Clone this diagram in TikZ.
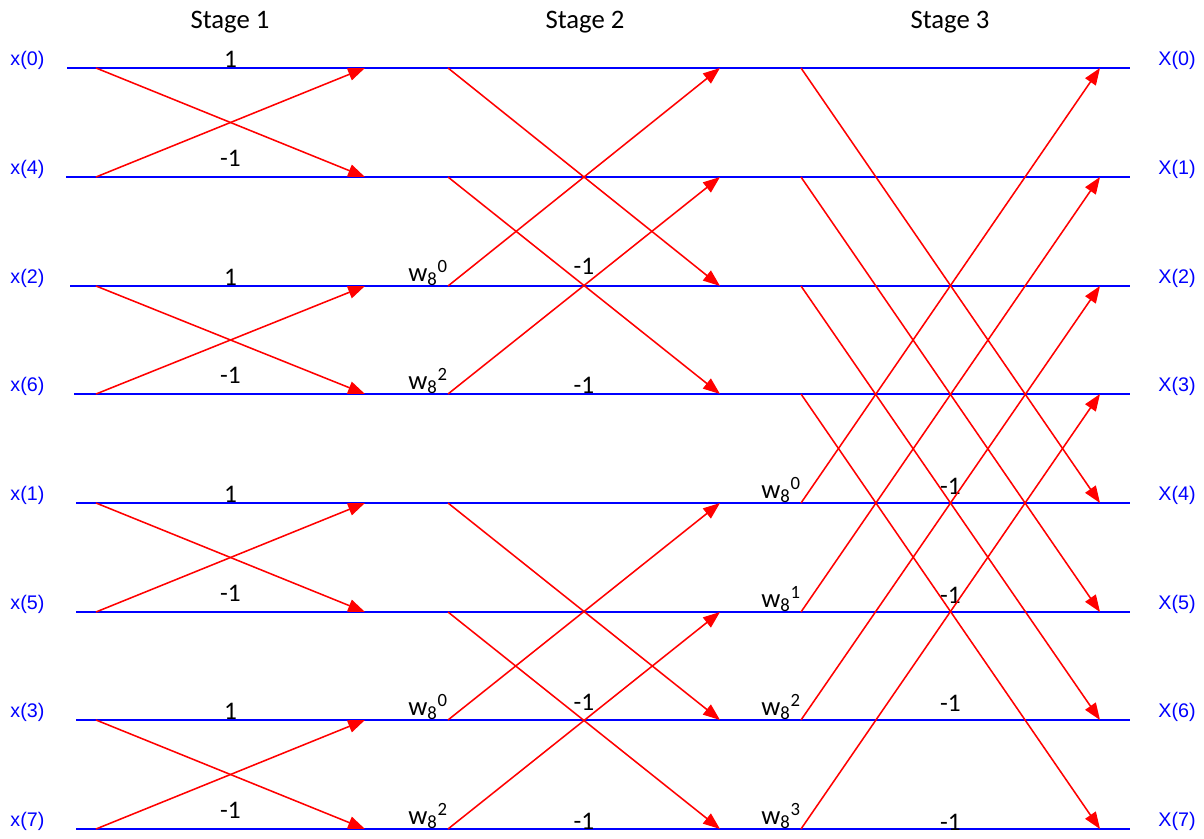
\documentclass[tikz,border=0pt]{standalone}
\usepackage{fontspec}
\setmainfont{Carlito}
\newfontfamily\arial{Liberation Sans}
\usetikzlibrary{arrows.meta,positioning}
\definecolor{azul}{RGB}{0,0,255}
\definecolor{rojo}{RGB}{255,0,0}

\begin{document}
\begin{tikzpicture}[x=0.025cm,y=-0.025cm,
linea/.style={draw=azul,line width=1.5pt},
flecha/.style={draw=rojo,line width=1.1pt,-{Triangle[length=12pt,width=9pt]}},
entrada/.style={text=azul,font=\arial\fontsize{14}{16}\selectfont,inner sep=1pt},
peso/.style={font=\fontsize{18}{20}\selectfont,inner sep=1pt},
factor/.style={font=\fontsize{19}{21}\selectfont,inner sep=0pt,anchor=south east},
etapa/.style={font=\fontsize{19}{22}\selectfont}
]
\useasboundingbox (0,0) rectangle (1204,839);

\node[etapa] (etapa1) at (230,22) {Stage 1};
\node[etapa] (etapa2) at (585,22) {Stage 2};
\node[etapa] (etapa3) at (950,22) {Stage 3};

% filas: indice / y / inicio de la linea / indice de entrada
\foreach \i/\y/\s/\n in {0/68/67/0,1/177/66/4,2/286/70/2,3/394/74/6,4/503/76/1,5/612/76/5,6/720/76/3,7/829/76/7}{
  \coordinate (s\i) at (\s,\y);
  \coordinate (t\i) at (1130,\y);
  \coordinate (a\i) at (96,\y);
  \coordinate (b\i) at (365,\y);
  \coordinate (c\i) at (448,\y);
  \coordinate (d\i) at (720,\y);
  \coordinate (e\i) at (801,\y);
  \coordinate (f\i) at (1100,\y);
  \draw[linea] (s\i) -- (t\i);
  \node[entrada,anchor=east] (x\i) at (46,\y-8) {x(\n)};
  \node[entrada] (X\i) at (1177,\y-8) {X(\i)};
}

% etapa 1
\foreach \p/\q in {0/1,2/3,4/5,6/7}{
  \draw[flecha] (a\p) -- (b\q);
  \draw[flecha] (a\q) -- (b\p);
  \path (a\p) -- (b\p) node[peso,midway,above=-1pt] (uno\p) {1};
  \path (a\q) -- (b\q) node[peso,midway,above=6pt] (menos\q) {-1};
}

% etapa 2
\foreach \p/\q/\h/\k in {0/2/7pt/0,1/3/-1pt/2,4/6/5.5pt/0,5/7/-1.5pt/2}{
  \draw[flecha] (c\p) -- (d\q);
  \draw[flecha] (c\q) -- (d\p);
  \node[factor] (wb\q) at (c\q) {w\textsubscript{8}\textsuperscript{\k}};
  \path (c\q) -- (d\q) node[peso,midway,above=\h] (mb\q) {-1};
}

% etapa 3
\foreach \p/\q/\h/\k in {0/4/4.5pt/0,1/5/4.5pt/1,2/6/4.5pt/2,3/7/-2.5pt/3}{
  \draw[flecha] (e\p) -- (f\q);
  \draw[flecha] (e\q) -- (f\p);
  \node[factor] (wc\q) at (e\q) {w\textsubscript{8}\textsuperscript{\k}};
  \path (e\q) -- (f\q) node[peso,midway,above=\h] (mc\q) {-1};
}
\end{tikzpicture}
\end{document}
